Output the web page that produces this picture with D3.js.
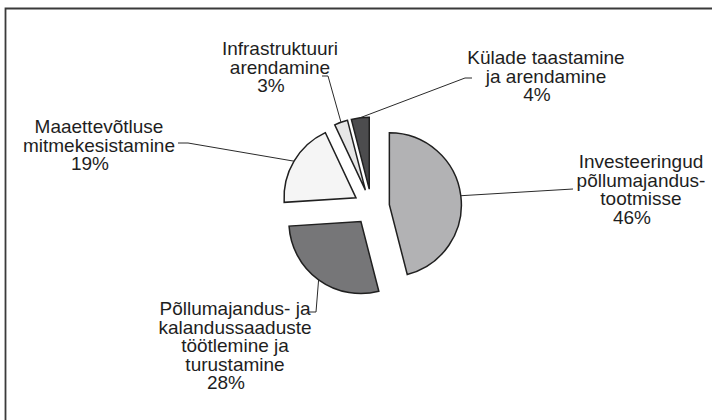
<!DOCTYPE html>
<html lang="et">
<head>
<meta charset="utf-8">
<title>Meetmete jaotus</title>
<script src="https://d3js.org/d3.v7.min.js"></script>
<style>
  body { margin: 0; background: #fff; }
  svg { display: block; }
  .lbl text { font-family: "Liberation Sans", Arial, sans-serif; font-size: 19px; fill: #1e1e1e; }
  .leader { fill: none; stroke: #2a2a2a; stroke-width: 1; }
</style>
</head>
<body>
<script>

// data
var categories = ["Investeeringud põllumajandustootmisse",
                  "Põllumajandus- ja kalandussaaduste töötlemine ja turustamine",
                  "Maaettevõtluse mitmekesistamine",
                  "Infrastruktuuri arendamine",
                  "Külade taastamine ja arendamine"];
var values = [46, 28, 19, 3, 4];
var percentLabels = ["46%", "28%", "19%", "3%", "4%"];
var labelLines = [
  ["Investeeringud", "põllumajandus-", "tootmisse"],
  ["Põllumajandus- ja", "kalandussaaduste", "töötlemine ja", "turustamine"],
  ["Maaettevõtluse", "mitmekesistamine"],
  ["Infrastruktuuri", "arendamine"],
  ["Külade taastamine", "ja arendamine"]
];

// layout (label centre x, first baseline y, leader elbow points)
var labelX = [641, 235, 99, 280, 546];
var labelY = [168, 315, 133, 55, 64];
var leaderPts = [
  [[573, 189]],
  [[316, 312], [309, 312]],
  [[188, 143], [178, 143]],
  [[328, 76], [322, 76]],
  [[465, 78], [472, 78]]
];
var fills = ["#b2b2b4", "#767678", "#f5f5f5", "#e6e6e6", "#4c4c4e"];

var width = 712, height = 420;
var cx = 371.5, cy = 207, radius = 72, explode = 18, lineH = 18.5;

var svg = d3.select("body").append("svg")
    .attr("width", width)
    .attr("height", height);

// frame (only top and left show)
svg.append("path")
    .attr("d", "M5.5," + height + "V8.5H" + width)
    .attr("fill", "none")
    .attr("stroke", "#3a3a3a")
    .attr("stroke-width", 1.8);

var pie = d3.pie().sort(null).value(function(d) { return d; });
var arc = d3.arc().innerRadius(0).outerRadius(radius);
var arcs = pie(values);

function offset(a) {
  var m = (a.startAngle + a.endAngle) / 2;
  return [Math.sin(m) * explode, -Math.cos(m) * explode];
}

var g = svg.append("g").attr("transform", "translate(" + cx + "," + cy + ")");

g.selectAll(".slice")
  .data(arcs)
  .enter().append("path")
    .attr("class", "slice")
    .attr("transform", function(d) { var o = offset(d); return "translate(" + o + ")"; })
    .attr("d", arc)
    .attr("fill", function(d, i) { return fills[i]; })
    .attr("stroke", "#202020")
    .attr("stroke-width", 1.5)
    .attr("stroke-linejoin", "miter");

// leader lines from middle of each outer edge
g.selectAll(".leader")
  .data(arcs)
  .enter().append("path")
    .attr("class", "leader")
    .attr("d", function(d, i) {
      var m = (d.startAngle + d.endAngle) / 2;
      var r = radius + explode;
      var p = [[Math.sin(m) * r, -Math.cos(m) * r]];
      leaderPts[i].forEach(function(q) { p.push([q[0] - cx, q[1] - cy]); });
      return d3.line()(p);
    });

// labels
var lbl = svg.selectAll(".lbl")
  .data(arcs)
  .enter().append("g")
    .attr("class", "lbl");

lbl.append("text")
    .attr("text-anchor", "middle")
    .each(function(d, i) {
      var t = d3.select(this);
      var lines = labelLines[i].concat([percentLabels[i]]);
      lines.forEach(function(s, j) {
        t.append("tspan")
          .attr("x", labelX[i] + (j == lines.length - 1 ? -9 : 0))
          .attr("y", labelY[i] + j * lineH)
          .text(s);
      });
    });

</script>
</body>
</html>
